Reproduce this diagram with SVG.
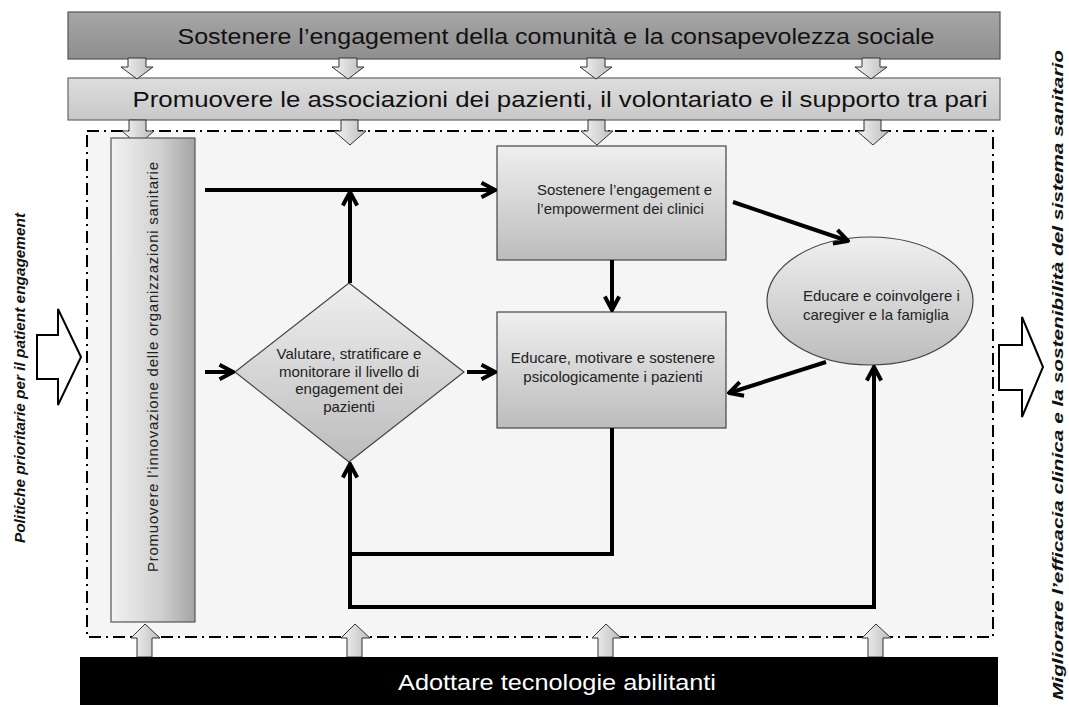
<svg xmlns="http://www.w3.org/2000/svg" width="1069" height="707" viewBox="0 0 1069 707">
<defs>
<linearGradient id="gTop" x1="0" y1="0" x2="0" y2="1"><stop offset="0" stop-color="#a6a6a6"/><stop offset="1" stop-color="#8e8e8e"/></linearGradient>
<linearGradient id="gSec" x1="0" y1="0" x2="0" y2="1"><stop offset="0" stop-color="#dedede"/><stop offset="1" stop-color="#c8c8c8"/></linearGradient>
<linearGradient id="gBox" x1="0" y1="0" x2="0" y2="1"><stop offset="0" stop-color="#efefef"/><stop offset="1" stop-color="#bcbcbc"/></linearGradient>
<linearGradient id="gVert" x1="0" y1="0" x2="1" y2="0"><stop offset="0" stop-color="#f2f2f2"/><stop offset="0.6" stop-color="#cfcfcf"/><stop offset="1" stop-color="#a4a4a4"/></linearGradient>
<linearGradient id="gArr" x1="0" y1="0" x2="1" y2="0"><stop offset="0" stop-color="#f4f4f4"/><stop offset="1" stop-color="#bdbdbd"/></linearGradient>
<marker id="ah" viewBox="0 0 10 10" refX="9" refY="5" markerWidth="18" markerHeight="18" markerUnits="userSpaceOnUse" orient="auto">
<path d="M1.5,1 L9,5 L1.5,9" fill="none" stroke="#000" stroke-width="2.2"/>
</marker>
<style>
.bar{font-family:"Liberation Sans",Arial,sans-serif;font-size:22px;text-anchor:middle;}
.lbl{font-family:"Liberation Sans",Arial,sans-serif;font-size:15px;fill:#222;}
.side{font-family:"Liberation Sans",Arial,sans-serif;font-size:15px;font-weight:bold;font-style:italic;text-anchor:middle;fill:#111;}
.blk{fill:url(#gArr);stroke:#333;stroke-width:1;}
.out{fill:#fff;stroke:#000;stroke-width:2;}
.con{fill:none;stroke:#000;stroke-width:4;}
.shape{stroke:#444;stroke-width:1.2;}
</style>
</defs>
<rect width="1069" height="707" fill="#fff"/>

<g id="frame">
<rect x="87" y="131" width="906" height="506" fill="#f5f5f5" stroke="#000" stroke-width="2" stroke-dasharray="12 5 2 5"/>
</g>

<g id="community">
<rect x="68" y="12" width="932" height="47" fill="url(#gTop)" stroke="#555" stroke-width="1.2"/>
<text class="bar" x="556" y="44" textLength="757" lengthAdjust="spacingAndGlyphs" fill="#111">Sostenere l’engagement della comunità e la consapevolezza sociale</text>
</g>

<g id="associations">
<rect x="68" y="78" width="932" height="42" fill="url(#gSec)" stroke="#666" stroke-width="1.2"/>
<text class="bar" x="560" y="107" textLength="855" lengthAdjust="spacingAndGlyphs" fill="#111">Promuovere le associazioni dei pazienti, il volontariato e il supporto tra pari</text>
</g>

<g id="block-arrows">
<path class="blk" d="M128,58 H146 V67 H153 L137,79 L121,67 H128 Z"/>
<path class="blk" d="M339,58 H357 V67 H364 L348,79 L332,67 H339 Z"/>
<path class="blk" d="M587,58 H605 V67 H612 L596,79 L580,67 H587 Z"/>
<path class="blk" d="M862,58 H880 V67 H887 L871,79 L855,67 H862 Z"/>
<path class="blk" d="M129,120 H146 V131 H154 L138,145 L122,131 H129 Z"/>
<path class="blk" d="M341,120 H358 V131 H366 L350,145 L334,131 H341 Z"/>
<path class="blk" d="M588,120 H605 V131 H613 L597,145 L581,131 H588 Z"/>
<path class="blk" d="M864,120 H881 V131 H889 L873,145 L857,131 H864 Z"/>
<path class="blk" d="M137,657 V638 H131 L145,624 L160,638 H152 V657 Z"/>
<path class="blk" d="M347,657 V638 H341 L355,624 L370,638 H362 V657 Z"/>
<path class="blk" d="M598,657 V638 H592 L606,624 L621,638 H613 V657 Z"/>
<path class="blk" d="M868,657 V638 H862 L876,624 L891,638 H883 V657 Z"/>
</g>

<g id="innovation">
<rect x="111" y="138" width="84" height="484" fill="url(#gVert)" stroke="#555" stroke-width="1.2"/>
<text class="lbl" transform="translate(158,367) rotate(-90)" text-anchor="middle" textLength="410" lengthAdjust="spacing" font-size="15">Promuovere l’innovazione delle organizzazioni sanitarie</text>
</g>

<g id="assess">
<polygon class="shape" points="349,283 464,372 349,462 235,372" fill="url(#gBox)"/>
<text class="lbl" text-anchor="middle" x="349" y="359">Valutare, stratificare e</text>
<text class="lbl" text-anchor="middle" x="349" y="377">monitorare il livello di</text>
<text class="lbl" text-anchor="middle" x="349" y="394">engagement dei</text>
<text class="lbl" text-anchor="middle" x="349" y="412">pazienti</text>
</g>

<g id="clinicians">
<rect class="shape" x="497" y="146" width="229" height="114" fill="url(#gBox)"/>
<text class="lbl" x="537" y="195">Sostenere l’engagement e</text>
<text class="lbl" x="537" y="214">l’empowerment dei clinici</text>
</g>

<g id="patients">
<rect class="shape" x="497" y="312" width="229" height="116" fill="url(#gBox)"/>
<text class="lbl" text-anchor="middle" x="613" y="363">Educare, motivare e sostenere</text>
<text class="lbl" text-anchor="middle" x="613" y="382">psicologicamente i pazienti</text>
</g>

<g id="caregivers">
<ellipse class="shape" cx="870" cy="301" rx="103" ry="64" fill="url(#gBox)"/>
<text class="lbl" x="803" y="301">Educare e coinvolgere i</text>
<text class="lbl" x="803" y="320">caregiver e la famiglia</text>
</g>

<g id="technologies">
<rect x="80" y="657" width="918" height="48" fill="#000"/>
<text class="bar" x="557" y="690" textLength="318" lengthAdjust="spacingAndGlyphs" fill="#fff">Adottare tecnologie abilitanti</text>
</g>

<g id="policies">
<polygon class="out" points="37,335 58,335 58,309 81,357 58,405 58,379 37,379"/>
<text class="side" transform="translate(25,378) rotate(-90)" textLength="330" lengthAdjust="spacingAndGlyphs">Politiche prioritarie per il patient engagement</text>
</g>

<g id="outcome">
<polygon class="out" points="999,345 1022,345 1022,317 1043,367 1022,417 1022,390 999,390"/>
<text class="side" transform="translate(1063,375) rotate(-90)" textLength="650" lengthAdjust="spacingAndGlyphs">Migliorare l’efficacia clinica e la sostenibilità del sistema sanitario</text>
</g>

<g id="connectors">
<line class="con" x1="205" y1="190" x2="495" y2="190" marker-end="url(#ah)"/>
<line class="con" x1="350" y1="283" x2="350" y2="192" marker-end="url(#ah)"/>
<line class="con" x1="205" y1="372" x2="233" y2="372" marker-end="url(#ah)"/>
<line class="con" x1="467" y1="372" x2="495" y2="372" marker-end="url(#ah)"/>
<line class="con" x1="612" y1="260" x2="612" y2="310" marker-end="url(#ah)"/>
<line class="con" x1="733" y1="202" x2="848" y2="241" marker-end="url(#ah)"/>
<line class="con" x1="826" y1="362" x2="729" y2="393" marker-end="url(#ah)"/>
<polyline class="con" points="612,428 612,554 350,554 350,464" marker-end="url(#ah)"/>
<polyline class="con" stroke-width="3.5" points="350,554 350,607 874,607 874,367" marker-end="url(#ah)"/>
</g>
</svg>
